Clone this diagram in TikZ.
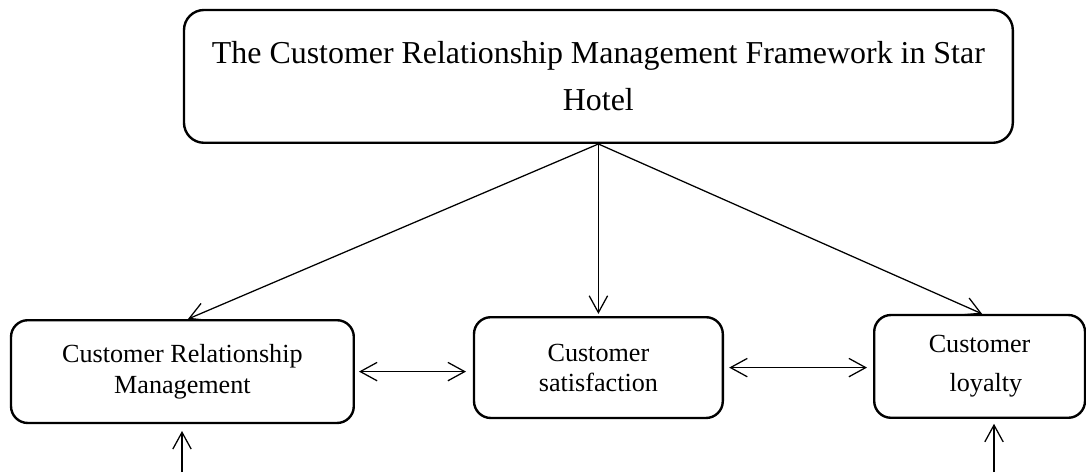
\documentclass[tikz,border=0pt]{standalone}
\usepackage{fontspec}
\setmainfont{Liberation Serif}
\usepackage{tikz}
\usetikzlibrary{arrows.meta}

\begin{document}
\begin{tikzpicture}[
   >={Straight Barb[length=4.2mm,width=4.6mm]},
   block/.style={draw=black,line width=1.7pt,rounded corners=#1,align=center,inner sep=0pt},
   link/.style={black,line width=0.9pt},
   titlefont/.style={font=\fontsize{22.7}{33.4}\selectfont},
   boxfont/.style={font=\fontsize{18.6}{#1}\selectfont}]
  \useasboundingbox (0,0) rectangle (27.15,11.8);
  % framework heading
  \node[block=0.5cm,titlefont,minimum width=20.72cm,minimum height=3.32cm] (frame) at (14.96,9.89)
     {The Customer Relationship Management Framework in Star\\Hotel};
  % the three parts
  \node[block=0.42cm,boxfont=22pt,minimum width=8.57cm,minimum height=2.57cm] (crm) at (4.56,2.51)
     {Customer Relationship\\Management};
  \node[block=0.42cm,boxfont=21.3pt,minimum width=6.22cm,minimum height=2.52cm] (sat) at (14.96,2.61)
     {Customer\\satisfaction};
  \node[block=0.42cm,boxfont=27.7pt,minimum width=5.27cm,minimum height=2.57cm] (loy) at (24.49,2.64)
     {Customer\\\hspace*{9pt}loyalty};
  % from the heading down
  \draw[link,->] (frame.south) -- ([xshift=0.14cm]crm.north);
  \draw[link,->,shorten >=1.5pt] (frame.south) -- (frame.south |- sat.north);
  \draw[link,->] (frame.south) -- ([xshift=0.06cm]loy.north);
  % between the parts
  \draw[link,<->,shorten <=0.1cm,shorten >=0.17cm] (crm.east) -- (crm.east -| sat.west);
  \draw[link,<->,shorten <=0.13cm,shorten >=0.15cm] (sat.east) -- (sat.east -| loy.west);
  % inputs from below
  \coordinate (crmfeed) at (4.55,0);
  \coordinate (loyfeed) at (24.85,0);
  \draw[link,->,shorten >=0.17cm] (crmfeed) -- (crmfeed |- crm.south);
  \draw[link,->,shorten >=0.12cm] (loyfeed) -- (loyfeed |- loy.south);
\end{tikzpicture}
\end{document}
